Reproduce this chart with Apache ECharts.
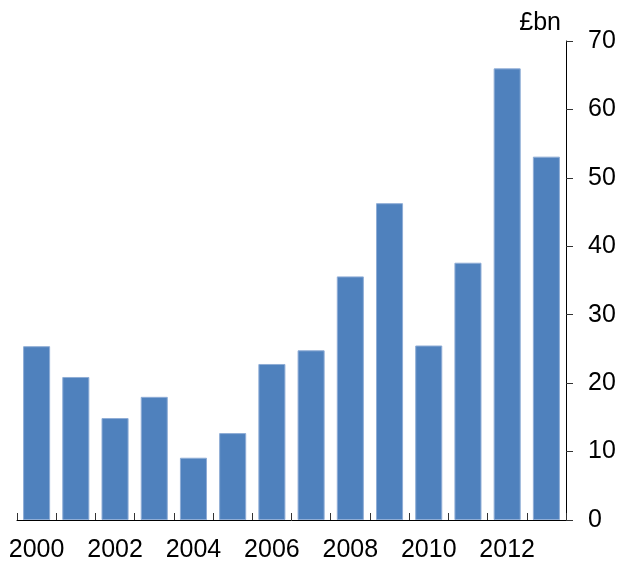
<!DOCTYPE html>
<html>
<head>
<meta charset="utf-8">
<script src="https://cdn.jsdelivr.net/npm/echarts@6/dist/echarts.min.js"></script>
<style>
  html, body { margin: 0; padding: 0; background: #fff; }
  #myCharts { width: 620px; height: 565px; }
</style>
</head>
<body>
<div id="myCharts"></div>
<script>
// 年份和数值 (£bn)
const years = ["2000", "2001", "2002", "2003", "2004", "2005", "2006",
  "2007", "2008", "2009", "2010", "2011", "2012", "2013"];
const values = [25.4, 20.9, 14.9, 18.0, 9.1, 12.7, 22.8,
  24.8, 35.6, 46.3, 25.5, 37.6, 66.0, 53.1];
const unitLabel = "£bn";
const yMin = 0, yMax = 70, yStep = 10;

const myCharts = echarts.init(document.getElementById("myCharts"));
const font = "'Liberation Sans', Arial, sans-serif";

let option = {
  animation: false,
  textStyle: { fontFamily: font },
  grid: {
    left: 17,
    right: 54,
    top: 41,
    bottom: 45,
  },
  xAxis: {
    type: "category",
    data: years,
    axisLine: { lineStyle: { color: "#000", width: 1 } },
    axisTick: {
      show: true,
      inside: true,
      length: 7,
      interval: 0,
      lineStyle: { color: "#333" },
    },
    axisLabel: {
      interval: 1, //隔一个显示
      color: "#000",
      fontSize: 25,
      fontFamily: font,
      margin: 18,
    },
  },
  yAxis: {
    type: "value",
    position: "right",
    min: yMin,
    max: yMax,
    interval: yStep,
    name: unitLabel,
    nameLocation: "end",
    nameGap: 18,
    nameTextStyle: {
      color: "#000",
      fontSize: 25,
      fontFamily: font,
      align: "right",
      verticalAlign: "middle",
      padding: [0, 5, 0, 0],
    },
    axisLine: { show: true, lineStyle: { color: "#000", width: 1 } },
    axisTick: { show: true, length: 7, lineStyle: { color: "#333" } },
    splitLine: { show: false },
    axisLabel: {
      color: "#000",
      fontSize: 25,
      fontFamily: font,
      margin: 22,
      align: "left",
    },
  },
  series: [
    {
      type: "bar",
      data: values,
      barCategoryGap: "31%",
      itemStyle: {
        color: "#4f81bd",
        borderColor: "#8fadd6",
        borderWidth: 1,
      },
    },
  ],
};

myCharts.setOption(option);
</script>
</body>
</html>
